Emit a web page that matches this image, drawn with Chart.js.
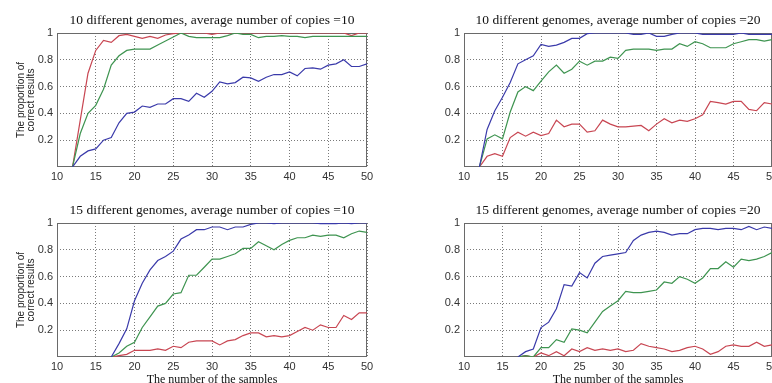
<!DOCTYPE html>
<html>
<head>
	<meta charset="utf-8">
	<title>Proportion of correct results</title>
	<script src="https://cdn.jsdelivr.net/npm/chart.js@4/dist/chart.umd.min.js"></script>
	<style>
		html, body { margin: 0; padding: 0; background: #fff; overflow: hidden; width: 772px; height: 383px; }
		.box { position: absolute; }
	</style>
</head>
<body>
	<div class="box" style="left:0px;top:0px;width:390px;height:190px;"><canvas id="c1"></canvas></div>
	<div class="box" style="left:390px;top:0px;width:400px;height:190px;"><canvas id="c2"></canvas></div>
	<div class="box" style="left:0px;top:190px;width:390px;height:200px;"><canvas id="c3"></canvas></div>
	<div class="box" style="left:390px;top:190px;width:400px;height:200px;"><canvas id="c4"></canvas></div>

	<script>
		// x values (number of samples)
		var samplesTop = [12,13,14,15,16,17,18,19,20,21,22,23,24,25,26,27,28,29,30,31,32,33,34,35,36,37,38,39,40,41,42,43,44,45,46,47,48,49,50];
		var samplesBottom = [17,18,19,20,21,22,23,24,25,26,27,28,29,30,31,32,33,34,35,36,37,38,39,40,41,42,43,44,45,46,47,48,49,50];

		var xTicks = [10, 15, 20, 25, 30, 35, 40, 45, 50];
		var yTicks = [0.2, 0.4, 0.6, 0.8, 1];

		var titles = [
			'10 different genomes, average number of copies =10',
			'10 different genomes, average number of copies =20',
			'15 different genomes, average number of copies =10',
			'15 different genomes, average number of copies =20'
		];

		// panel 1: 10 genomes, copies = 10
		var p1Blue  = [0,0.08,0.12,0.135,0.2,0.22,0.33,0.40,0.41,0.455,0.445,0.47,0.47,0.51,0.51,0.49,0.55,0.52,0.565,0.635,0.62,0.63,0.67,0.665,0.64,0.67,0.69,0.69,0.71,0.68,0.735,0.74,0.73,0.76,0.77,0.80,0.75,0.75,0.77];
		var p1Green = [0,0.25,0.40,0.46,0.58,0.76,0.83,0.87,0.88,0.88,0.88,0.91,0.94,0.97,1.0,0.975,0.965,0.965,0.965,0.965,0.98,1.0,0.99,0.99,0.965,0.975,0.975,0.98,0.975,0.975,0.965,0.975,0.975,0.975,0.975,0.975,0.975,0.975,0.975];
		var p1Red   = [0,0.35,0.70,0.87,0.945,0.93,0.98,0.99,0.975,0.96,0.975,0.96,0.985,0.995,1,1,1,1,0.99,1,1,1,1,1,1,1,1,1,1,1,1,1,1,1,1,1,0.98,1,1];

		// panel 2: 10 genomes, copies = 20
		var p2Blue  = [0,0.28,0.42,0.52,0.63,0.77,0.80,0.83,0.915,0.90,0.91,0.93,0.96,0.96,0.995,1,1,1,1,1,0.99,0.99,1,0.975,0.975,0.99,1,1,1,0.99,0.99,0.99,0.99,0.99,1,0.99,0.99,0.99,0.99];
		var p2Green = [0,0.21,0.24,0.21,0.41,0.56,0.60,0.57,0.64,0.71,0.76,0.70,0.73,0.79,0.76,0.79,0.79,0.82,0.81,0.87,0.88,0.88,0.88,0.87,0.88,0.88,0.92,0.90,0.935,0.92,0.89,0.89,0.89,0.92,0.935,0.95,0.95,0.94,0.95];
		var p2Red   = [0,0.08,0.10,0.08,0.22,0.26,0.23,0.26,0.235,0.25,0.35,0.30,0.32,0.32,0.26,0.27,0.35,0.32,0.30,0.30,0.305,0.31,0.27,0.32,0.36,0.33,0.35,0.34,0.36,0.39,0.49,0.48,0.47,0.49,0.49,0.43,0.42,0.48,0.47];

		// panel 3: 15 genomes, copies = 10
		var p3Blue  = [0,0.10,0.21,0.42,0.55,0.65,0.72,0.75,0.79,0.88,0.91,0.95,0.95,0.97,0.97,0.95,0.97,0.97,0.99,1,1,0.995,1,1,1,1,1,0.995,0.995,0.995,1,0.995,1,1];
		var p3Green = [0,0.03,0.08,0.11,0.22,0.30,0.38,0.40,0.47,0.48,0.61,0.61,0.67,0.73,0.73,0.75,0.77,0.81,0.81,0.86,0.83,0.80,0.84,0.87,0.89,0.89,0.91,0.90,0.91,0.91,0.89,0.92,0.94,0.93];
		var p3Red   = [0,0.01,0.02,0.05,0.05,0.05,0.06,0.05,0.08,0.07,0.11,0.12,0.12,0.12,0.09,0.12,0.13,0.16,0.18,0.18,0.15,0.16,0.15,0.16,0.19,0.22,0.20,0.24,0.22,0.22,0.31,0.28,0.33,0.33];

		// panel 4: 15 genomes, copies = 20
		var p4Blue  = [0,0.04,0.06,0.22,0.26,0.36,0.54,0.53,0.63,0.59,0.70,0.75,0.76,0.77,0.78,0.87,0.91,0.93,0.94,0.93,0.91,0.92,0.92,0.95,0.96,0.96,0.95,0.96,0.96,0.95,0.975,0.95,0.97,0.96];
		var p4Green = [0,0.01,0.0,0.07,0.07,0.13,0.11,0.21,0.20,0.18,0.26,0.34,0.38,0.42,0.49,0.48,0.48,0.49,0.50,0.56,0.55,0.60,0.58,0.55,0.59,0.66,0.66,0.71,0.67,0.73,0.72,0.73,0.75,0.78];
		var p4Red   = [0,0.01,0.0,0.03,0.01,0.04,0.01,0.06,0.04,0.07,0.05,0.06,0.05,0.06,0.04,0.05,0.10,0.08,0.07,0.06,0.04,0.05,0.07,0.08,0.06,0.02,0.04,0.08,0.09,0.08,0.08,0.11,0.08,0.09];

		var blue = '#3a3aaa';
		var green = '#3e9450';
		var red = '#c84652';

		// plot frame drawn under the lines
		var framePlugin = {
			id: 'frame',
			beforeDatasetsDraw: function(chart) {
				var a = chart.chartArea;
				var ctx = chart.ctx;
				ctx.save();
				ctx.strokeStyle = '#6a6a6a';
				ctx.lineWidth = 1;
				ctx.strokeRect(Math.round(a.left) + 0.5, Math.round(a.top) + 0.5, Math.round(a.width) - 1, Math.round(a.height) - 1);
				ctx.restore();
			}
		};

		function toPoints(xs, ys) {
			var pts = [];
			for (var i = 0; i < xs.length; i++) pts.push({x: xs[i], y: ys[i]});
			return pts;
		}

		function makeChart(id, title, xs, b, g, r, cfg) {
			var ctx = document.getElementById(id).getContext('2d');
			return new Chart(ctx, {
				type: 'line',
				data: {
					datasets: [
						{ data: toPoints(xs, b), borderColor: blue, borderWidth: 1.2 },
						{ data: toPoints(xs, g), borderColor: green, borderWidth: 1.2 },
						{ data: toPoints(xs, r), borderColor: red, borderWidth: 1.2 }
					]
				},
				options: {
					responsive: true,
					maintainAspectRatio: false,
					animation: false,
					layout: { padding: { left: 0, right: cfg.right, top: 0, bottom: 0 } },
					elements: { point: { radius: 0 }, line: { tension: 0 } },
					plugins: {
						legend: { display: false },
						tooltip: { enabled: false },
						title: {
							display: true,
							text: title,
							fullSize: false,
							color: '#111',
							font: { family: '"Liberation Serif", "Times New Roman", serif', size: 13.5, weight: 'normal', lineHeight: 1.2 },
							padding: { top: 12, bottom: 4.8 }
						}
					},
					scales: {
						x: {
							type: 'linear',
							min: 10,
							max: 50,
							afterBuildTicks: function(axis) { axis.ticks = xTicks.map(function(v) { return {value: v}; }); },
							afterFit: function(axis) { axis.height = cfg.xh; },
							grid: { color: '#7a7a7a', drawTicks: false, borderDash: [1, 2] },
							border: { display: false, dash: [1, 2] },
							ticks: {
								padding: 3,
								color: '#333',
								maxRotation: 0,
								font: { family: '"Liberation Sans", Arial, sans-serif', size: 11 }
							},
							title: {
								display: cfg.xTitle,
								text: 'The number of the samples',
								color: '#111',
								font: { family: '"Liberation Serif", "Times New Roman", serif', size: 12, lineHeight: 1.2 },
								padding: { top: 0, bottom: 3 }
							}
						},
						y: {
							min: 0,
							max: 1,
							afterBuildTicks: function(axis) { axis.ticks = yTicks.map(function(v) { return {value: v}; }); },
							afterFit: function(axis) { axis.width = cfg.yw; },
							grid: { color: '#7a7a7a', drawTicks: false, borderDash: [1, 2] },
							border: { display: false, dash: [1, 2] },
							ticks: {
								padding: 4,
								color: '#333',
								font: { family: '"Liberation Sans", Arial, sans-serif', size: 11 },
								callback: function(v) { return v === 1 ? '1' : v.toFixed(1); }
							},
							title: {
								display: cfg.yTitle,
								text: ['The proportion of', 'correct results'],
								color: '#222',
								font: { family: '"Liberation Sans", Arial, sans-serif', size: 10, lineHeight: 1.0 },
								padding: { top: 16, bottom: 0 }
							}
						}
					}
				},
				plugins: [framePlugin]
			});
		}

		makeChart('c1', titles[0], samplesTop, p1Blue, p1Green, p1Red, { right: 23, xh: 23, yw: 57, xTitle: false, yTitle: true });
		makeChart('c2', titles[1], samplesTop, p2Blue, p2Green, p2Red, { right: 18, xh: 23, yw: 74, xTitle: false, yTitle: false });
		makeChart('c3', titles[2], samplesBottom, p3Blue, p3Green, p3Red, { right: 23, xh: 33, yw: 57, xTitle: true, yTitle: true });
		makeChart('c4', titles[3], samplesBottom, p4Blue, p4Green, p4Red, { right: 18, xh: 33, yw: 74, xTitle: true, yTitle: false });
	</script>
</body>
</html>
